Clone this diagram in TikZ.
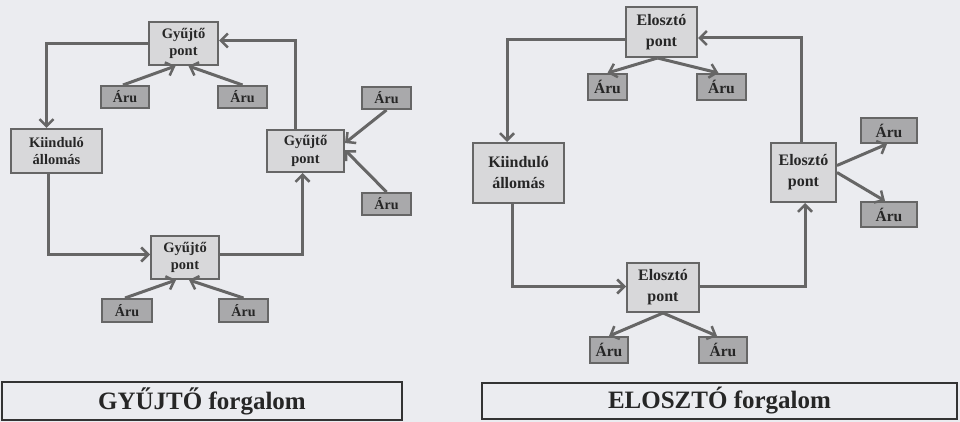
\documentclass[tikz,border=0pt]{standalone}
\usepackage{fontspec}
\setmainfont{Liberation Serif}
\usetikzlibrary{arrows.meta}
\definecolor{bgc}{HTML}{EBECF0}
\definecolor{boxc}{HTML}{D8D8DA}
\definecolor{aruc}{HTML}{A9A9AB}
\definecolor{linec}{HTML}{666666}
\definecolor{textc}{HTML}{262626}
\tikzset{
  pt/.style={draw=linec, line width=2pt, fill=boxc, inner sep=0pt, align=center,
    text=textc, font=\fontsize{14.5}{17.5}\selectfont\bfseries},
  ptr/.style={pt, font=\fontsize{16}{21}\selectfont\bfseries},
  aru/.style={draw=linec, line width=2pt, fill=aruc, inner sep=0pt,
    text=textc, font=\fontsize{14}{16}\selectfont\bfseries},
  arur/.style={aru, font=\fontsize{15.5}{18}\selectfont\bfseries},
  ttl/.style={draw=black!80, line width=2pt, fill=bgc, inner sep=0pt,
    text=textc, font=\fontsize{25}{28}\selectfont\bfseries},
  arr/.style={draw=linec, line width=3pt, -{Straight Barb[length=7pt,width=14pt,line width=2.5pt]}},
}
\begin{document}
\begin{tikzpicture}[x=1pt,y=-1pt]
\useasboundingbox (0,0) rectangle (960,422);
\fill[bgc] (0,0) rectangle (960,422);

% ---------- left: GYŰJTŐ ----------
\node[pt, minimum width=69, minimum height=43] (g1) at (183.5,43.5) {Gyűjtő\\pont};
\node[aru, minimum width=48, minimum height=22] (ka) at (125,97) {Áru};
\node[aru, minimum width=49, minimum height=22] (kb) at (242.5,97) {Áru};
\node[pt, minimum width=91, minimum height=44] (kiL) at (56.5,151) {Kiinduló\\állomás};
\node[pt, minimum width=77, minimum height=42] (g2) at (305.5,151) {Gyűjtő\\pont};
\node[aru, minimum width=49, minimum height=22] (kc) at (386.5,98) {Áru};
\node[aru, minimum width=49, minimum height=22] (kd) at (386.5,204) {Áru};
\node[pt, minimum width=68, minimum height=43] (g3) at (185,257.5) {Gyűjtő\\pont};
\node[aru, minimum width=50, minimum height=23] (ke) at (127,310.5) {Áru};
\node[aru, minimum width=49, minimum height=23] (kf) at (243.5,310.5) {Áru};
\node[ttl, minimum width=400, minimum height=38] (tL) at (202,401) {GYŰJTŐ forgalom};

\draw[arr] (g1.west) -| ([xshift=-10pt]kiL.north);
\draw[arr] ([xshift=-10pt]g2.north) |- ([yshift=3pt]g1.east);
\draw[arr] ([xshift=-8pt]kiL.south) |- ([yshift=3pt]g3.west);
\draw[arr] ([yshift=3pt]g3.east) -| ([xshift=-3pt]g2.south);
\draw[arr] ([xshift=-2pt]ka.north) -- ([xshift=-8pt]g1.south);
\draw[arr] (kb.north) -- ([xshift=5pt]g1.south);
\draw[arr] (kc.south) -- ([yshift=8pt]g2.east);
\draw[arr] (kd.north) -- ([yshift=1pt]g2.east);
\draw[arr] ([xshift=-2pt]ke.north) -- ([xshift=-9pt]g3.south);
\draw[arr] (kf.north) -- ([xshift=4pt]g3.south);

% ---------- right: ELOSZTÓ ----------
\node[ptr, minimum width=71, minimum height=50] (e1) at (661.5,32) {Elosztó\\pont};
\node[arur, minimum width=39, minimum height=26] (ra) at (607.5,87) {Áru};
\node[arur, minimum width=49, minimum height=26] (rb) at (721.5,87) {Áru};
\node[ptr, minimum width=91, minimum height=60] (kiR) at (518.5,173) {Kiinduló\\állomás};
\node[ptr, minimum width=65, minimum height=59] (e2) at (803.5,172.5) {Elosztó\\pont};
\node[arur, minimum width=56, minimum height=25] (rc) at (889,130.5) {Áru};
\node[arur, minimum width=56, minimum height=25] (rd) at (889,214.5) {Áru};
\node[ptr, minimum width=72, minimum height=49] (e3) at (663,287.5) {Elosztó\\pont};
\node[arur, minimum width=38, minimum height=26] (re) at (609,350) {Áru};
\node[arur, minimum width=48, minimum height=26] (rf) at (723,350) {Áru};
\node[ttl, minimum width=475, minimum height=36] (tR) at (719.5,401) {ELOSZTÓ forgalom};

\draw[arr] ([yshift=-8pt]e1.west) -| ([xshift=-11.5pt]kiR.north);
\draw[arr] ([xshift=-2.5pt]e2.north) |- ([yshift=-6pt]e1.east);
\draw[arr] ([xshift=-6.5pt]kiR.south) |- ([yshift=1pt]e3.west);
\draw[arr] ([yshift=1pt]e3.east) -| ([xshift=1.5pt]e2.south);
\draw[arr] ([xshift=-4pt]e1.south) -- (ra.north);
\draw[arr] ([xshift=-4pt]e1.south) -- ([xshift=-3pt]rb.north);
\draw[arr] ([yshift=7pt]e2.east) -- ([xshift=-2pt]rc.south);
\draw[arr] (e2.east) -- ([xshift=-4pt]rd.north);
\draw[arr] (e3.south) -- (re.north);
\draw[arr] (e3.south) -- ([xshift=-6pt]rf.north);
\end{tikzpicture}
\end{document}
